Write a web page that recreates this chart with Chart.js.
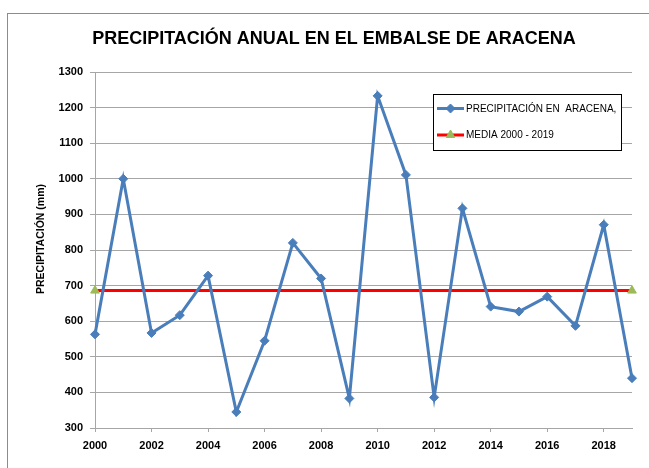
<!DOCTYPE html>
<html><head><meta charset="utf-8">
<script src="https://cdn.jsdelivr.net/npm/chart.js@4.4.1/dist/chart.umd.min.js"></script>
<style>html,body{margin:0;padding:0;background:#fff}canvas{display:block}</style>
</head><body>
<canvas id="c" width="649" height="468"></canvas>
<script>
const years = [2000,2001,2002,2003,2004,2005,2006,2007,2008,2009,2010,2011,2012,2013,2014,2015,2016,2017,2018,2019];
const precipitation = [563,1000,567,617,728,345,545,820,720,383,1233,1011,386,917,641,627,669,587,871,440];
const meanYears = [2000, 2019];
const meanValues = [686, 686];
const xTickLabels = [2000,2002,2004,2006,2008,2010,2012,2014,2016,2018];
const yTickLabels = [300,400,500,600,700,800,900,1000,1100,1200,1300];
const seriesNames = ['PRECIPITACIÓN EN  ARACENA,', 'MEDIA 2000 - 2019'];
const chartTitle = 'PRECIPITACIÓN ANUAL EN EL EMBALSE DE ARACENA';
const yTitle = 'PRECIPITACIÓN (mm)';

const FONT = "'Liberation Sans', Arial, sans-serif";
const BLUE = '#4a7ebb', RED = '#ff0000', GREEN = '#9bbb59', GRID = '#a6a6a6';

const frame = {
  id: 'frame',
  beforeDraw(chart) {
    const ctx = chart.ctx;
    ctx.save();
    ctx.fillStyle = '#fff';
    ctx.fillRect(0, 0, chart.width, chart.height);
    ctx.strokeStyle = '#8c8c8c';
    ctx.lineWidth = 1;
    ctx.strokeRect(7.5, 13.5, 800, 600);
    ctx.restore();
  },
  afterDraw(chart) {
    const ctx = chart.ctx;
    ctx.save();
    ctx.fillStyle = '#000';
    ctx.textAlign = 'center';
    ctx.textBaseline = 'middle';
    ctx.font = 'bold 18px ' + FONT;
    ctx.fillText(chartTitle, 334, 39);
    ctx.translate(41, 239);
    ctx.rotate(-Math.PI / 2);
    ctx.font = 'bold 10.5px ' + FONT;
    ctx.fillText(yTitle, 0, 0);
    ctx.restore();
  }
};

const boxLegend = {
  id: 'boxLegend',
  afterDraw(chart) {
    const ctx = chart.ctx;
    const x = 433, y = 94, w = 188, h = 56;
    ctx.save();
    ctx.fillStyle = '#fff';
    ctx.fillRect(x, y, w, h);
    ctx.strokeStyle = '#000';
    ctx.lineWidth = 1;
    ctx.strokeRect(x + 0.5, y + 0.5, w, h);
    const rows = [y + 14.5, y + 41];
    chart.data.datasets.forEach((ds, i) => {
      const ry = rows[i];
      ctx.strokeStyle = ds.borderColor;
      ctx.lineWidth = 3;
      ctx.beginPath(); ctx.moveTo(437, ry); ctx.lineTo(464, ry); ctx.stroke();
      ctx.fillStyle = ds.pointBackgroundColor;
      ctx.strokeStyle = ds.pointBorderColor;
      ctx.lineWidth = 1;
      Chart.helpers.drawPoint(ctx, {pointStyle: ds.pointStyle, radius: ds.pointRadius, borderWidth: 1, rotation: 0}, 450.5, ry);
      ctx.fillStyle = '#000';
      ctx.font = '10px ' + FONT;
      ctx.textBaseline = 'middle';
      ctx.textAlign = 'left';
      ctx.fillText(ds.label, 466, ry + 0.5);
    });
    ctx.restore();
  }
};

new Chart(document.getElementById('c'), {
  type: 'line',
  data: {
    datasets: [
      {
        label: seriesNames[0],
        data: years.map((yr, i) => ({x: yr, y: precipitation[i]})),
        borderColor: BLUE, borderWidth: 3,
        pointStyle: 'rectRot', pointRadius: 4.5,
        pointBackgroundColor: BLUE, pointBorderColor: BLUE, pointBorderWidth: 1,
        tension: 0, clip: false, order: 1
      },
      {
        label: seriesNames[1],
        data: meanYears.map((yr, i) => ({x: yr, y: meanValues[i]})),
        borderColor: RED, borderWidth: 3,
        pointStyle: 'triangle', pointRadius: 5,
        pointBackgroundColor: GREEN, pointBorderColor: GREEN, pointBorderWidth: 1,
        tension: 0, clip: false, order: 2
      }
    ]
  },
  options: {
    responsive: false,
    animation: false,
    devicePixelRatio: 1,
    layout: {padding: {left: 0, right: 17, top: 72, bottom: 0}},
    plugins: {
      legend: {display: false},
      tooltip: {enabled: false},
      title: {display: false}
    },
    scales: {
      x: {
        type: 'linear', min: 2000, max: 2019,
        afterBuildTicks: (axis) => { axis.ticks = xTickLabels.map(v => ({value: v})); },
        afterFit: (axis) => { axis.height = 40; },
        grid: {drawOnChartArea: false, drawTicks: true, tickLength: 4, color: GRID},
        border: {display: true, color: GRID, width: 1},
        ticks: {color: '#000', padding: 7, maxRotation: 0, autoSkip: false,
          font: {family: FONT, size: 11, weight: 'bold'},
          callback: (v) => String(v)}
      },
      y: {
        type: 'linear', min: 300, max: 1300,
        afterBuildTicks: (axis) => { axis.ticks = yTickLabels.map(v => ({value: v})); },
        afterFit: (axis) => { axis.width = 95; },
        grid: {color: GRID, tickLength: 5, drawTicks: true},
        border: {display: true, color: GRID, width: 1},
        ticks: {color: '#000', padding: 7, font: {family: FONT, size: 11, weight: 'bold'},
          callback: (v) => String(v)}
      }
    }
  },
  plugins: [frame, boxLegend]
});
</script>
</body></html>
